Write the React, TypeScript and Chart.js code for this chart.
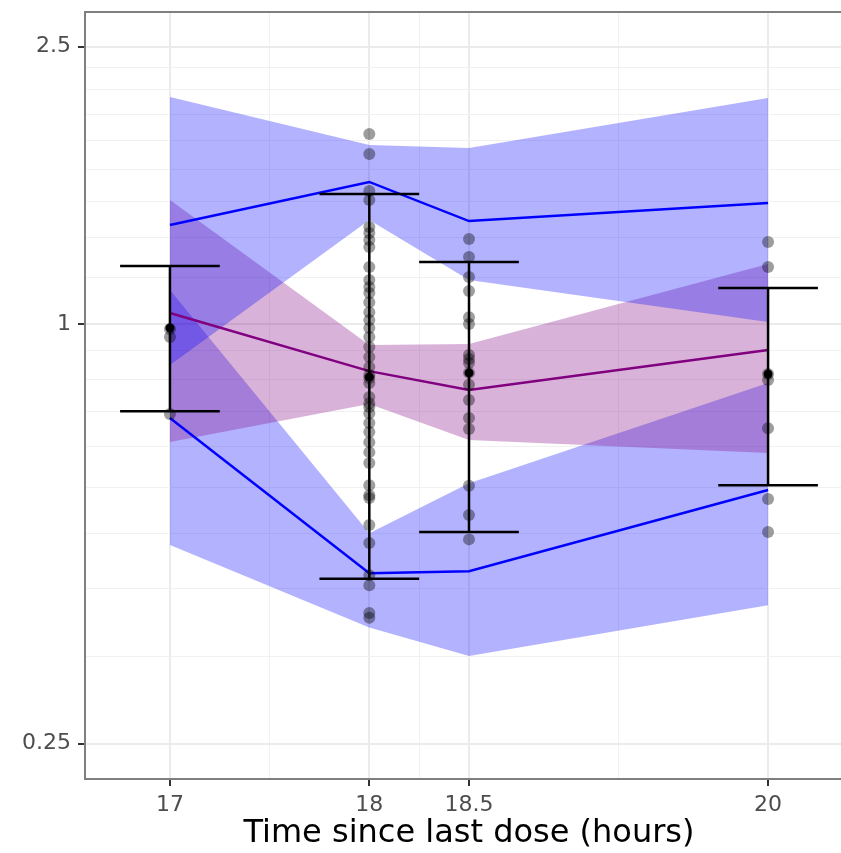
import React, { useEffect, useRef } from "react";
import { Chart, registerables } from "chart.js";

Chart.register(...registerables);

// ---- axes ----
const timePoints = [17, 18, 18.5, 20];
const xTickLabels = ["17", "18", "18.5", "20"];
const xMinorGrid = [17.5, 18.25, 19.25];
const yTickValues = [0.25, 1, 2.5];
const yTickLabels = ["0.25", "1", "2.5"];
const yMinorGrid = [
  0.333, 0.417, 0.5, 0.583, 0.667, 0.75, 0.833, 0.917,
  1.167, 1.333, 1.5, 1.667, 1.833, 2.0, 2.167, 2.333,
];
const xTitle = "Time since last dose (hours)";

// ---- simulated prediction-interval bands ----
const upperBandHigh = [2.117, 1.806, 1.789, 2.11];
const upperBandLow = [0.873, 1.41, 1.157, 1.007];
const medianBandHigh = [1.506, 0.933, 0.936, 1.219];
const medianBandLow = [0.677, 0.768, 0.682, 0.653];
const lowerBandHigh = [1.119, 0.501, 0.591, 0.823];
const lowerBandLow = [0.482, 0.367, 0.334, 0.395];

// ---- observed percentile lines ----
const obsUpper = [1.387, 1.599, 1.405, 1.491];
const obsMedian = [1.037, 0.856, 0.804, 0.918];
const obsLower = [0.733, 0.439, 0.442, 0.578];

// ---- summary with error bars ----
const summaryMean = [0.987, 0.839, 0.851, 0.848];
const summaryLow = [0.75, 0.431, 0.503, 0.587];
const summaryHigh = [1.211, 1.536, 1.227, 1.126];

// ---- observations ----
const obsAt17 = [0.984, 0.958, 0.743];
const obsAt18 = [
  1.874, 1.754, 1.552, 1.506, 1.378, 1.351, 1.32, 1.29, 1.207, 1.157, 1.13,
  1.108, 1.075, 1.04, 1.013, 0.987, 0.958, 0.927, 0.897, 0.868, 0.845, 0.837,
  0.823, 0.786, 0.77, 0.76, 0.745, 0.721, 0.7, 0.677, 0.655, 0.632, 0.587,
  0.568, 0.563, 0.515, 0.485, 0.436, 0.422, 0.385, 0.379,
];
const obsAt185 = [
  1.324, 1.248, 1.168, 1.115, 1.023, 1.0, 0.903, 0.891, 0.879, 0.851, 0.818,
  0.778, 0.733, 0.707, 0.586, 0.532, 0.491,
];
const obsAt20 = [1.311, 1.207, 0.848, 0.831, 0.709, 0.561, 0.503];

const FONT = "'DejaVu Sans', 'Liberation Sans', sans-serif";
const CAP = 0.25;

export default function App() {
  const ref = useRef<HTMLCanvasElement>(null);

  useEffect(() => {
    const canvas = ref.current;
    if (!canvas) return;

    const xy = (ys: number[]) => timePoints.map((x, i) => ({ x, y: ys[i] }));
    const obsGroups = [obsAt17, obsAt18, obsAt185, obsAt20];
    const obsPoints: { x: number; y: number }[] = [];
    obsGroups.forEach((g, i) => g.forEach((y) => obsPoints.push({ x: timePoints[i], y })));

    const errData: any[] = [];
    timePoints.forEach((x, i) => {
      const lo = summaryLow[i];
      const hi = summaryHigh[i];
      errData.push({ x, y: lo }, { x, y: hi }, { x, y: null });
      errData.push({ x: x - CAP, y: hi }, { x: x + CAP, y: hi }, { x, y: null });
      errData.push({ x: x - CAP, y: lo }, { x: x + CAP, y: lo }, { x, y: null });
    });

    const blueFill = "rgba(0,0,255,0.3)";
    const purpleFill = "rgba(128,0,128,0.3)";
    const none = "rgba(0,0,0,0)";

    const borderPlugin = {
      id: "panelBorder",
      afterDraw(chart: any) {
        const { ctx, chartArea } = chart;
        ctx.save();
        ctx.strokeStyle = "#7F7F7F";
        ctx.lineWidth = 2;
        ctx.strokeRect(
          chartArea.left,
          chartArea.top,
          chartArea.right - chartArea.left,
          chartArea.bottom - chartArea.top
        );
        ctx.restore();
      },
    };

    const isMajorX = (v: number) => timePoints.includes(v);
    const isMajorY = (v: number) => yTickValues.some((t) => Math.abs(t - v) < 1e-9);

    const chart = new Chart(canvas, {
      type: "line",
      data: {
        datasets: [
          // 0 mean points
          {
            data: xy(summaryMean),
            showLine: false,
            pointRadius: 4.5,
            pointBackgroundColor: "#000",
            pointBorderWidth: 0,
          },
          // 1 error bars
          {
            data: errData,
            borderColor: "#000",
            borderWidth: 2.5,
            pointRadius: 0,
            spanGaps: false,
            fill: false,
          },
          // 2 observations
          {
            data: obsPoints,
            showLine: false,
            pointRadius: 6,
            pointBackgroundColor: "rgba(0,0,0,0.38)",
            pointBorderWidth: 0,
          },
          // 3 observed upper
          { data: xy(obsUpper), borderColor: "#0000FF", borderWidth: 2.5, pointRadius: 0, fill: false },
          // 4 observed median
          { data: xy(obsMedian), borderColor: "#800080", borderWidth: 2.5, pointRadius: 0, fill: false },
          // 5 observed lower
          { data: xy(obsLower), borderColor: "#0000FF", borderWidth: 2.5, pointRadius: 0, fill: false },
          // 6/7 upper band
          { data: xy(upperBandHigh), borderColor: none, borderWidth: 0, pointRadius: 0, fill: false },
          { data: xy(upperBandLow), borderColor: none, borderWidth: 0, pointRadius: 0, fill: 6, backgroundColor: blueFill },
          // 8/9 median band
          { data: xy(medianBandHigh), borderColor: none, borderWidth: 0, pointRadius: 0, fill: false },
          { data: xy(medianBandLow), borderColor: none, borderWidth: 0, pointRadius: 0, fill: 8, backgroundColor: purpleFill },
          // 10/11 lower band
          { data: xy(lowerBandHigh), borderColor: none, borderWidth: 0, pointRadius: 0, fill: false },
          { data: xy(lowerBandLow), borderColor: none, borderWidth: 0, pointRadius: 0, fill: 10, backgroundColor: blueFill },
        ] as any,
      },
      options: {
        animation: false,
        responsive: false,
        events: [],
        layout: { padding: { top: 12, right: 17, left: 0, bottom: 0 } },
        plugins: {
          legend: { display: false },
          tooltip: { enabled: false },
          title: { display: false },
        },
        elements: { line: { tension: 0 } },
        scales: {
          x: {
            type: "linear",
            min: 16.574,
            max: 20.426,
            afterBuildTicks: (s: any) => {
              s.ticks = [...timePoints, ...xMinorGrid]
                .sort((a, b) => a - b)
                .map((v) => ({ value: v }));
            },
            afterFit: (s: any) => {
              s.height = 74;
              s.paddingLeft = 0;
              s.paddingRight = 0;
            },
            border: { display: false },
            grid: {
              color: (c: any) => (isMajorX(c.tick.value) ? "#EBEBEB" : "#F1F1F1"),
              lineWidth: (c: any) => (isMajorX(c.tick.value) ? 2 : 1),
              tickColor: (c: any) => (isMajorX(c.tick.value) ? "#333333" : none),
              tickWidth: 2,
              tickLength: 7,
            },
            ticks: {
              autoSkip: false,
              maxRotation: 0,
              padding: 6,
              color: "#4D4D4D",
              font: { family: FONT, size: 22 },
              callback: (v: any) => {
                const i = timePoints.indexOf(Number(v));
                return i >= 0 ? xTickLabels[i] : "";
              },
            },
            title: {
              display: true,
              text: xTitle,
              color: "#000",
              font: { family: FONT, size: 32 },
              padding: { top: 0, bottom: 0 },
            },
          },
          y: {
            type: "logarithmic",
            min: 0.2225,
            max: 2.803,
            afterBuildTicks: (s: any) => {
              s.ticks = [...yTickValues, ...yMinorGrid]
                .sort((a, b) => a - b)
                .map((v) => ({ value: v }));
            },
            afterFit: (s: any) => {
              s.width = 85;
              s.paddingTop = 0;
              s.paddingBottom = 0;
            },
            border: { display: false },
            grid: {
              color: (c: any) => (isMajorY(c.tick.value) ? "#EBEBEB" : "#F1F1F1"),
              lineWidth: (c: any) => (isMajorY(c.tick.value) ? 2 : 1),
              tickColor: (c: any) => (isMajorY(c.tick.value) ? "#333333" : none),
              tickWidth: 2,
              tickLength: 7,
            },
            ticks: {
              autoSkip: false,
              padding: 7,
              color: "#4D4D4D",
              font: { family: FONT, size: 22 },
              callback: (v: any) => {
                const i = yTickValues.findIndex((t) => Math.abs(t - Number(v)) < 1e-9);
                return i >= 0 ? yTickLabels[i] : "";
              },
            },
          },
        },
      } as any,
      plugins: [borderPlugin],
    });

    return () => chart.destroy();
  }, []);

  return (
    <div
      style={{
        position: "fixed",
        left: 0,
        top: 0,
        width: 841,
        height: 853,
        overflow: "hidden",
        background: "#fff",
      }}
    >
      <canvas ref={ref} width={870} height={853} style={{ display: "block" }} />
    </div>
  );
}
